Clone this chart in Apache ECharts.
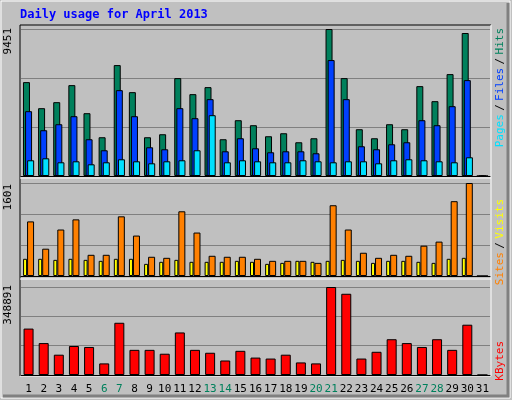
<!DOCTYPE html><html><head><meta charset="utf-8"><script src="https://cdn.jsdelivr.net/npm/echarts@6/dist/echarts.min.js"></script>
<style>body{margin:0}#c{width:512px;height:400px}</style></head><body><div id="c"></div><script>
const days=['1','2','3','4','5','6','7','8','9','10','11','12','13','14','15','16','17','18','19','20','21','22','23','24','25','26','27','28','29','30','31'];
const weekend=['6','7','13','14','20','21','27','28'];
const hits=[6036,4360,4747,5842,4038,2492,7131,5391,2492,2685,6293,5262,5713,2363,3587,3265,2556,2749,2169,2427,9451,6293,3007,2427,3329,3007,5778,4811,6551,9193,0];
const files=[4167,2943,3329,3845,2363,1654,5520,3845,1847,1718,4360,3716,4940,1589,2427,1783,1525,1589,1589,1461,7453,4940,1912,1718,2040,2169,3587,3265,4489,6165,0];
const pages=[1010,1138,881,945,752,881,1074,945,816,945,1010,1654,3909,881,1010,945,881,881,1010,945,881,945,945,816,1010,1074,1010,945,881,1203,0];
const visits=[940,470,800,975,365,365,1027,696,331,313,1114,748,348,331,331,296,261,261,261,226,1218,800,400,313,365,348,522,592,1288,1601,0];
const sites=[296,296,278,296,278,261,296,296,209,244,278,244,244,244,261,244,209,226,261,244,261,278,261,226,261,261,244,226,296,313,0];
const kbytes=[184034,126523,80515,115020,111186,46008,207038,99684,99684,84349,168697,99684,88183,57510,95850,69012,65178,80515,49842,46008,348891,322053,65178,92016,141859,126523,111186,141859,99684,199366,0];
const maxLabels=['9451','1601','348891'];
const mx=[9451,1601,348891];
const ch=echarts.init(document.getElementById('c'));
const grids=[{left:21,right:22,top:29,height:147},{left:21,right:22,top:183,height:93},{left:21,right:22,top:287,height:88}];
const bs={borderColor:'#000',borderWidth:1};
function xa(i){return {type:'category',gridIndex:i,data:days,axisTick:{show:false},axisLine:{show:true,lineStyle:{color:'#000'}},
 axisLabel:{show:i===2,interval:0,fontFamily:'DejaVu Sans Mono',fontSize:11,margin:9,formatter:v=>weekend.includes(v)?'{g|'+v+'}':'{b|'+v+'}',rich:{g:{color:'#00805c',fontFamily:'DejaVu Sans Mono',fontSize:11},b:{color:'#000',fontFamily:'DejaVu Sans Mono',fontSize:11}}}};}
function ya(i){return {type:'value',gridIndex:i,min:0,max:mx[i],interval:mx[i]/3,axisLabel:{show:false},axisLine:{show:false},axisTick:{show:false},splitLine:{lineStyle:{color:'#808080',width:1}}};}
function sr(name,data,i,color,w,gap){return {name,type:'bar',xAxisIndex:i,yAxisIndex:i,data,barWidth:w,barGap:gap,itemStyle:Object.assign({color},bs),silent:true,animation:false};}
const F='11px "DejaVu Sans Mono"';
ch.setOption({
 backgroundColor:'#c0c0c0',animation:false,
 grid:grids,xAxis:[xa(0),xa(1),xa(2)],yAxis:[ya(0),ya(1),ya(2)],
 series:[sr('Hits',hits,0,'#00805c',7,'-70%'),sr('Files',files,0,'#0040ff',7,'-70%'),sr('Pages',pages,0,'#00e0ff',7,'-70%'),
  sr('Sites',sites,1,'#ffff00',4,'0%'),sr('Visits',visits,1,'#ff8000',7,'0%'),
  sr('KBytes',kbytes,2,'#ff0000',10,'0%')],
 graphic:[
  {type:'rect',shape:{x:1,y:1,width:509,height:397},style:{fill:'none',stroke:'#fff',lineWidth:1},z:-1},
  {type:'polyline',shape:{points:[[3,396],[508,396],[508,3]]},style:{stroke:'#808080',lineWidth:3,fill:'none'}},
  {type:'polyline',shape:{points:[[20,376],[20,25],[491,25]]},style:{stroke:'#000',fill:'none',lineWidth:1}},
  {type:'polyline',shape:{points:[[20,376],[491,376],[491,25]]},style:{stroke:'#fff',fill:'none',lineWidth:1}},
  {type:'line',shape:{x1:20,y1:178,x2:491,y2:178},style:{stroke:'#fff',lineWidth:1}},
  {type:'line',shape:{x1:20,y1:279,x2:491,y2:279},style:{stroke:'#fff',lineWidth:1}},
  {type:'text',x:20,y:15,style:{text:'Daily usage for April 2013',font:'bold 12px "DejaVu Sans Mono"',fill:'#0000ff',verticalAlign:'middle'}},
  {type:'text',x:8,y:28,rotation:Math.PI/2,style:{text:maxLabels[0],font:F,fill:'#000',align:'right',verticalAlign:'middle'}},
  {type:'text',x:8,y:184,rotation:Math.PI/2,style:{text:maxLabels[1],font:F,fill:'#000',align:'right',verticalAlign:'middle'}},
  {type:'text',x:8,y:285,rotation:Math.PI/2,style:{text:maxLabels[2],font:F,fill:'#000',align:'right',verticalAlign:'middle'}},
  {type:'text',x:500,y:28,rotation:Math.PI/2,style:{text:'{a|Pages} {s|/} {b|Files} {s|/} {c|Hits}',rich:{a:{fill:'#00e0ff',font:F},b:{fill:'#0040ff',font:F},c:{fill:'#00805c',font:F},s:{fill:'#000',font:F}},align:'right',verticalAlign:'middle'}},
  {type:'text',x:500,y:199,rotation:Math.PI/2,style:{text:'{a|Sites} {s|/} {b|Visits}',rich:{a:{fill:'#ff8000',font:F},b:{fill:'#ffff00',font:F},s:{fill:'#000',font:F}},align:'right',verticalAlign:'middle'}},
  {type:'text',x:500,y:341,rotation:Math.PI/2,style:{text:'KBytes',font:F,fill:'#ff0000',align:'right',verticalAlign:'middle'}}
 ]
});
</script></body></html>
